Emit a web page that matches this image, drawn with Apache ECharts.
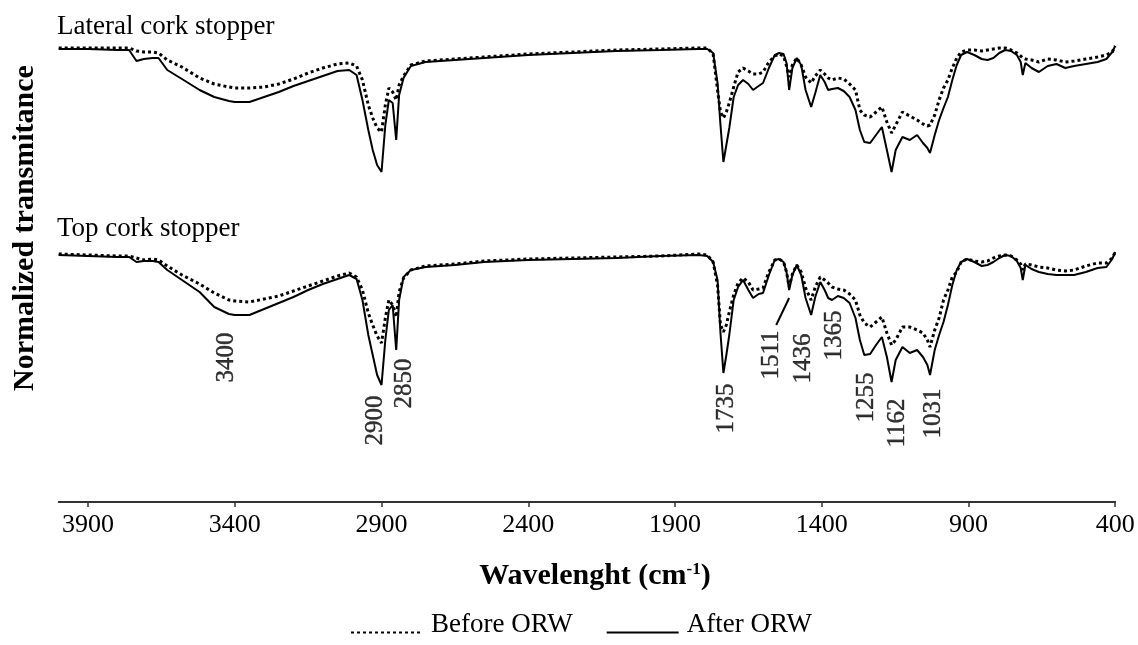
<!DOCTYPE html>
<html>
<head>
<meta charset="utf-8">
<title>FTIR spectra of cork stoppers</title>
<script src="https://cdn.jsdelivr.net/npm/echarts@6/dist/echarts.min.js"></script>
<style>
  html, body { margin: 0; padding: 0; background: #fff; }
  #chart { width: 1138px; height: 645px; }
</style>
</head>
<body>
<div id="chart"></div>
<script>
// Wavenumber sampling (cm-1), shared by every spectrum
const wavenumbers = [
  4000, 3900, 3800, 3760, 3735, 3710, 3680, 3660, 3630, 3580,
  3520, 3470, 3420, 3400, 3350, 3300, 3250, 3200, 3150, 3100,
  3050, 3010, 2985, 2965, 2945, 2930, 2915, 2900, 2887, 2875,
  2862, 2850, 2840, 2825, 2800, 2750, 2650, 2550, 2400, 2250,
  2100, 1950, 1820, 1790, 1770, 1755, 1745, 1735, 1725, 1715,
  1700, 1685, 1668, 1650, 1634, 1615, 1600, 1580, 1560, 1545,
  1530, 1520, 1511, 1500, 1485, 1470, 1455, 1436, 1422, 1405,
  1390, 1378, 1365, 1345, 1325, 1305, 1285, 1270, 1255, 1235,
  1215, 1195, 1178, 1162, 1148, 1125, 1100, 1075, 1055, 1040,
  1031, 1015, 1000, 985, 970, 955, 940, 925, 905, 880,
  855, 835, 815, 795, 775, 755, 735, 722, 715, 706,
  685, 660, 630, 600, 570, 540, 500, 460, 430, 410,
  400
];

// Normalized transmittance (a.u.), lateral cork stopper
const lateralBefore = [
  149, 149, 149, 149, 146, 145, 145, 144, 137, 130,
  119, 113, 110, 109, 109, 110, 113, 118, 124, 129,
  133, 134, 131, 117, 92, 79, 69, 65, 92, 109,
  105, 97, 112, 121, 132, 136, 138, 140, 143, 145,
  147, 148, 149, 149, 143, 107, 85, 79, 85, 94,
  110, 125, 129, 126, 123, 123, 125, 135, 141, 143,
  141, 131, 120, 132, 139, 132, 120, 114, 121, 127,
  123, 119, 117, 119, 118, 113, 107, 87, 82, 80,
  85, 90, 75, 64, 72, 85, 81, 77, 73, 71,
  72, 82, 97, 109, 117, 129, 139, 145, 147, 147,
  146, 147, 148, 149, 149, 147, 144, 141, 139, 138,
  137, 135, 138, 137, 135, 136, 138, 140, 142, 145,
  151
];
const lateralAfter = [
  148, 148, 147, 147, 136, 138, 139, 139, 127, 118,
  107, 100, 96, 95, 95, 100, 105, 111, 116, 121,
  126, 127, 122, 97, 67, 47, 32, 25, 72, 97,
  94, 57, 102, 119, 131, 135, 137, 139, 142, 144,
  146, 147, 148, 148, 144, 114, 72, 35, 52, 69,
  100, 112, 117, 113, 107, 111, 114, 129, 142, 144,
  143, 134, 107, 129, 139, 132, 107, 90, 104, 122,
  115, 107, 108, 109, 106, 100, 87, 67, 55, 54,
  62, 70, 47, 25, 47, 60, 57, 62, 54, 49,
  44, 62, 77, 89, 100, 117, 132, 142, 145, 142,
  138, 137, 139, 144, 147, 146, 142, 135, 122, 134,
  129, 125, 131, 133, 129, 131, 133, 135, 138, 145,
  151
];

// Normalized transmittance (a.u.), top cork stopper
const topBefore = [
  151, 150, 149, 149, 147, 145, 146, 145, 139, 130,
  121, 112, 105, 104, 103, 106, 109, 114, 119, 124,
  129, 132, 128, 115, 92, 80, 69, 62, 87, 105,
  100, 88, 113, 127, 135, 139, 141, 144, 146, 147,
  148, 149, 151, 150, 143, 120, 80, 73, 80, 93,
  110, 122, 127, 123, 115, 116, 117, 133, 145, 146,
  143, 133, 118, 131, 140, 133, 117, 105, 118, 128,
  125, 122, 118, 116, 115, 111, 105, 90, 82, 78,
  83, 88, 72, 60, 65, 78, 78, 75, 72, 65,
  58, 75, 87, 105, 115, 128, 133, 143, 146, 144,
  143, 144, 147, 149, 150, 149, 145, 141, 135, 141,
  140, 138, 137, 135, 134, 135, 139, 142, 142, 147,
  153
];
const topAfter = [
  150, 149, 148, 148, 143, 144, 144, 143, 135, 125,
  113, 98, 91, 90, 90, 96, 102, 108, 115, 121,
  126, 130, 126, 105, 70, 50, 30, 20, 65, 95,
  100, 55, 105, 128, 135, 138, 140, 143, 145, 146,
  147, 149, 150, 149, 143, 125, 72, 32, 50, 70,
  105, 118, 125, 115, 107, 111, 112, 130, 145, 146,
  143, 133, 115, 130, 140, 130, 107, 90, 108, 123,
  115, 107, 105, 109, 107, 102, 87, 65, 50, 51,
  60, 68, 48, 23, 45, 58, 52, 55, 48, 40,
  30, 55, 70, 83, 100, 120, 135, 143, 146, 143,
  139, 140, 143, 147, 150, 149, 144, 137, 125, 140,
  136, 133, 131, 130, 130, 130, 133, 137, 138, 146,
  153
];

// Assigned absorption bands (cm-1)
const peakLabels = [3400, 2900, 2850, 1735, 1511, 1436, 1365, 1255, 1162, 1031];

// Axis tick labels (cm-1)
const tickValues = [3900, 3400, 2900, 2400, 1900, 1400, 900, 400];

const seriesNames = ['Before ORW', 'After ORW'];
const panelTitles = ['Lateral cork stopper', 'Top cork stopper'];

// Band label placement: [gap below the band minimum, sideways shift] in px
const labelPlacement = {
  3400: [17, -8], 2900: [10, -6], 2850: [8, 8], 1735: [10, 3], 1511: [40, -18],
  1436: [18, -8], 1365: [10, 2], 1255: [17, 2], 1162: [16, 6], 1031: [13, 3]
};

const SERIF = '"Liberation Serif", "Times New Roman", serif';
const INK = '#000';

const pairs = ys => wavenumbers.map((w, i) => [w, ys[i]]);
const dottedLine = { color: INK, width: 3, type: [3, 3] };
const solidLine = { color: INK, width: 2, type: 'solid' };

const GRID_LEFT = 58.7, GRID_RIGHT = 22.8;

const xAxisBase = {
  type: 'value', min: 400, max: 4000, inverse: true,
  splitLine: { show: false }
};

function spectrum(name, ys, axis, style, extra) {
  return Object.assign({
    name: name, type: 'line', xAxisIndex: axis, yAxisIndex: axis,
    data: pairs(ys), symbol: 'none', showSymbol: false,
    lineStyle: style, itemStyle: { color: INK }, silent: true, z: 3
  }, extra || {});
}

const bandLabels = {
  type: 'scatter', xAxisIndex: 1, yAxisIndex: 1, silent: true, z: 5,
  symbolSize: 1, itemStyle: { color: 'rgba(0,0,0,0)' },
  data: peakLabels.map(w => {
    const p = labelPlacement[w];
    return {
      value: [w, topAfter[wavenumbers.indexOf(w)]],
      label: { offset: [-p[0], p[1]] }
    };
  }),
  label: {
    show: true, position: 'bottom', distance: 0, rotate: 90,
    align: 'right', verticalAlign: 'middle',
    formatter: p => String(p.value[0]),
    fontFamily: SERIF, fontSize: 25, color: INK,
    textBorderColor: INK, textBorderWidth: 0.4
  }
};

const option = {
  animation: false,
  backgroundColor: '#fff',
  grid: [
    { left: GRID_LEFT, right: GRID_RIGHT, top: 37, height: 160 },
    { left: GRID_LEFT, right: GRID_RIGHT, top: 245, height: 160 }
  ],
  xAxis: [
    Object.assign({}, xAxisBase, { gridIndex: 0, show: false }),
    Object.assign({}, xAxisBase, {
      gridIndex: 1, position: 'bottom', offset: 97,
      axisLine: { show: true, onZero: false, lineStyle: { color: '#333', width: 2 } },
      axisTick: { show: true, inside: false, length: 5, customValues: tickValues,
                  lineStyle: { color: '#333', width: 1.5 } },
      axisLabel: { customValues: tickValues, margin: 10, fontFamily: SERIF,
                   fontSize: 26, color: INK, formatter: v => String(v) },
      name: 'Wavelenght (cm{sup|-1})',
      nameLocation: 'middle', nameGap: 59,
      nameTextStyle: {
        fontFamily: SERIF, fontWeight: 'bold', fontSize: 30, color: INK,
        padding: [0, 0, 0, 16],
        rich: { sup: { fontFamily: SERIF, fontWeight: 'bold', fontSize: 17,
                       color: INK, verticalAlign: 'top' } }
      }
    })
  ],
  yAxis: [
    { gridIndex: 0, type: 'value', min: 0, max: 160, show: false },
    { gridIndex: 1, type: 'value', min: 0, max: 160, show: false }
  ],
  legend: {
    data: seriesNames, left: 350, top: 611, padding: 0,
    itemWidth: 72, itemHeight: 14, itemGap: 33,
    itemStyle: { color: 'rgba(0,0,0,0)', borderColor: 'rgba(0,0,0,0)', borderWidth: 0 },
    formatter: name => '{t|' + name + '}',
    textStyle: {
      fontFamily: SERIF, fontSize: 27, color: INK,
      rich: { t: { fontFamily: SERIF, fontSize: 27, color: INK, padding: [0, 0, 16, 3] } }
    }
  },
  graphic: [
    { type: 'text', left: 57, top: 13,
      style: { text: panelTitles[0], font: '27px ' + SERIF, fill: INK } },
    { type: 'text', left: 57, top: 215,
      style: { text: panelTitles[1], font: '27px ' + SERIF, fill: INK } },
    { type: 'text', x: 25, y: 228, rotation: Math.PI / 2,
      style: { text: 'Normalized transmitance', font: 'bold 30px ' + SERIF,
               fill: INK, align: 'center', verticalAlign: 'middle' } }
  ],
  series: [
    spectrum(seriesNames[0], lateralBefore, 0, dottedLine),
    spectrum(seriesNames[1], lateralAfter, 0, solidLine),
    spectrum(seriesNames[0], topBefore, 1, dottedLine),
    spectrum(seriesNames[1], topAfter, 1, solidLine, {
      markLine: {
        silent: true, symbol: ['none', 'none'], label: { show: false },
        lineStyle: { color: INK, width: 2, type: 'solid' },
        data: [[{ coord: [1511, 107] }, { coord: [1555, 80] }]]
      }
    }),
    bandLabels
  ]
};

const chart = echarts.init(document.getElementById('chart'), null, { renderer: 'canvas' });
chart.setOption(option);
</script>
</body>
</html>
